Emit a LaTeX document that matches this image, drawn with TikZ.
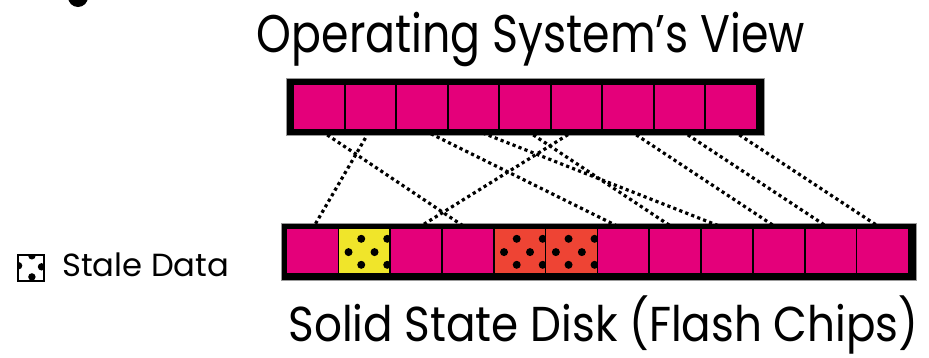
\documentclass[tikz,border=0pt]{standalone}
\usepackage{fontspec}
\setmainfont{Poppins}
\usetikzlibrary{calc}
\definecolor{cellpink}{HTML}{E4007A}
\definecolor{staleyellow}{HTML}{F0E52A}
\definecolor{stalered}{HTML}{EE4434}
% set a line of text at its own size, squeezed to a given width
\newcommand{\setwide}[2]{\resizebox{#1}{\height}{#2}}

\begin{document}
\begin{tikzpicture}[x=1pt,y=-1pt,
  bar/.style={fill=black, draw=black!40, line width=0.6pt, inner sep=0pt, minimum height=57.5pt},
  cell/.style={inner sep=0pt, minimum height=44pt, draw=none},
  link/.style={line width=3.2pt, dash pattern=on 3.2pt off 3.2pt, shorten <=10pt, shorten >=6pt},
  textline/.style={anchor=base west, inner sep=0pt, text=black},
  bigtext/.style={font=\fontsize{53}{60}\selectfont},
  disktext/.style={font=\fontsize{49}{56}\selectfont},
  smalltext/.style={font=\fontsize{32}{36}\selectfont}
]
\useasboundingbox (0,0) rectangle (929,357);
\clip (0,0) rectangle (929,357);

% bullet cut by the top edge
\node[circle, fill=black, minimum size=20pt, inner sep=0pt] (bullet) at (78,-3) {};

% titles
\node[textline, bigtext] (ostitle) at (256.7,52.5) {\setwide{548pt}{Operating System’s View}};
\node[textline, disktext, text depth=9pt] (ssdtitle) at (288.3,341.5) {\setwide{630pt}{Solid State Disk (Flash Chips)}};

% logical blocks seen by the OS
\node[bar, minimum width=477.6pt] (osbar) at (525.5,107) {};
\foreach \i in {0,...,8}
  \node[cell, fill=cellpink, minimum width=49.9pt] (t\i) at ({294+51.5*\i+24.95},107.15) {};

% physical pages on the flash chips
\node[bar, minimum width=635pt] (ssdbar) at (598.5,251.7) {};
\foreach \j/\c in {0/cellpink,1/staleyellow,2/cellpink,3/cellpink,4/stalered,5/stalered,
                   6/cellpink,7/cellpink,8/cellpink,9/cellpink,10/cellpink,11/cellpink}
  \node[cell, fill=\c, minimum width=50.2pt] (b\j) at ({287.3+51.83*\j+25.1},251.3) {};

% stale pages are dotted
\foreach \j in {1,4,5}{
  \begin{scope}
    \clip (b\j.north west) rectangle (b\j.south east);
    \foreach \dx/\dy in {22.3/9.7,48.3/9.7,9.6/23,35.6/23,22.3/35.7,48.3/35.7}
      \fill[black] ($(b\j.north west)+(\dx,\dy)$) circle (4);
  \end{scope}
}

% mapping from logical blocks to physical pages
\foreach \a/\b in {0/3,1/0,2/6,3/8,4/7,5/2,6/9,7/10,8/11}
  \draw[link] (t\a.south) -- (b\b.north);

% legend
\node[draw=black, line width=1.4pt, fill=white, minimum size=26pt, inner sep=0pt] (key) at (31,268) {};
\begin{scope}
  \clip (key.north west) rectangle (key.south east);
  \foreach \dx/\dy in {14.6/1.5,1.3/11.4,24.2/12.5,14.6/22.6}
    \fill[black] ($(key.north west)+(\dx,\dy)$) circle (3.7);
\end{scope}
\node[draw=black, line width=1.4pt, minimum size=26pt, inner sep=0pt] (keyframe) at (key) {};
\node[textline, smalltext] (keytext) at (62,276) {\setwide{167pt}{Stale Data}};
\end{tikzpicture}
\end{document}
